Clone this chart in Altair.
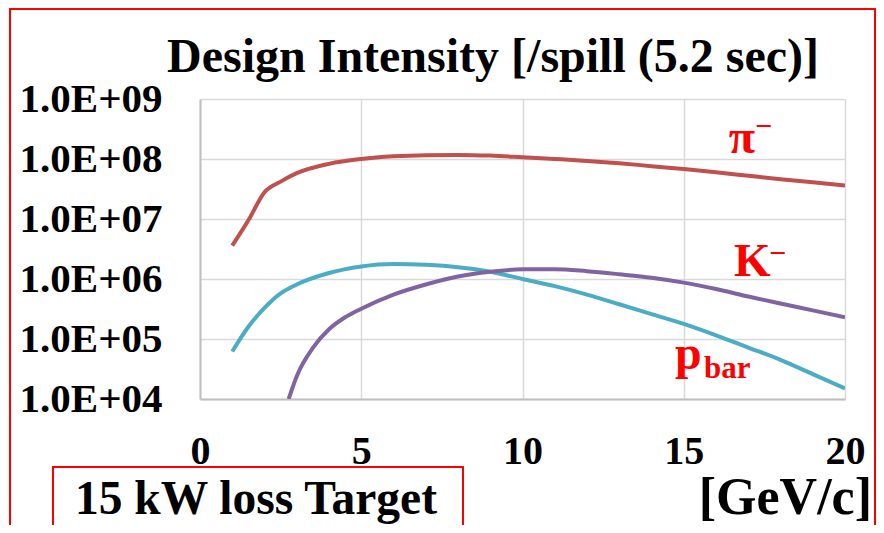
import altair as alt
import pandas as pd

# ---- data ----
series_names = ["pi-", "K-", "pbar"]
series_colors = ["#C0504D", "#4BACC6", "#8064A2"]

pi_energy = [1.0, 1.5, 2.0, 2.5, 3.0, 4.0, 5.0, 6.0, 7.0, 8.0, 9.0, 10, 11, 12, 13, 14, 15, 16, 17, 18, 19, 20]
pi_intensity = [3.6e6, 9.5e6, 2.8e7, 4.2e7, 5.8e7, 8.3e7, 1.0e8, 1.11e8, 1.16e8, 1.17e8, 1.14e8, 1.07e8,
                1.0e8, 9.3e7, 8.5e7, 7.6e7, 6.8e7, 6.0e7, 5.25e7, 4.6e7, 4.1e7, 3.6e7]

k_energy = [1.0, 1.5, 2.0, 2.5, 3.0, 4.0, 5.0, 6.0, 7.0, 8.0, 9.0, 10, 11, 12, 13, 14, 15, 16, 17, 18, 19, 20]
k_intensity = [6.2e4, 1.6e5, 3.3e5, 5.75e5, 8.1e5, 1.26e6, 1.62e6, 1.78e6, 1.72e6, 1.57e6, 1.32e6, 1.0e6,
               7.6e5, 5.5e5, 3.8e5, 2.6e5, 1.78e5, 1.15e5, 7.2e4, 4.5e4, 2.6e4, 1.5e4]

pbar_energy = [2.75, 3.0, 3.5, 4.0, 4.5, 5.0, 6.0, 7.0, 8.0, 9.0, 10, 11, 12, 13, 14, 15, 16, 17, 18, 19, 20]
pbar_intensity = [1.0e4, 2.4e4, 7.1e4, 1.45e5, 2.3e5, 3.2e5, 5.5e5, 8.1e5, 1.1e6, 1.32e6, 1.45e6, 1.46e6,
                  1.35e6, 1.2e6, 1.05e6, 8.7e5, 6.8e5, 5.1e5, 3.9e5, 3.0e5, 2.3e5]

x_ticks = [0, 5, 10, 15, 20]
y_ticks = [1e4, 1e5, 1e6, 1e7, 1e8, 1e9]

title_text = "Design Intensity [/spill (5.2 sec)]"
x_title_text = "[GeV/c]"
box_text = "15 kW loss Target"

rows = []
for name, xs_, ys_ in [("pi-", pi_energy, pi_intensity),
                       ("K-", k_energy, k_intensity),
                       ("pbar", pbar_energy, pbar_intensity)]:
    for e, v in zip(xs_, ys_):
        rows.append({"series": name, "energy": e, "intensity": v})
df = pd.DataFrame(rows)

FONT = "Liberation Serif"
RED = "#FF0000"
GRID = "#D9D9D9"

x_scale = alt.Scale(domain=[0, 20], nice=False, zero=False)
y_scale = alt.Scale(type="log", domain=[1e4, 1e9], nice=False)

lines = alt.Chart(df).mark_line(strokeWidth=4, interpolate="monotone", clip=True).encode(
    x=alt.X("energy:Q", scale=x_scale,
            axis=alt.Axis(values=x_ticks, title=None, grid=True, gridColor=GRID, gridWidth=1.5,
                          domainColor="#BFBFBF", domainWidth=2, ticks=False,
                          labelFont=FONT, labelFontWeight="bold", labelFontSize=40,
                          labelColor="black", labelPadding=32, labelFlush=False,
                          labelOverlap=False)),
    y=alt.Y("intensity:Q", scale=y_scale,
            axis=alt.Axis(values=y_ticks, title=None, grid=True, gridColor=GRID, gridWidth=1.5,
                          domainColor="#BFBFBF", domainWidth=2, ticks=False,
                          labelFont=FONT, labelFontWeight="bold", labelFontSize=41,
                          labelColor="black", labelPadding=38, labelFlush=False,
                          labelOverlap=False,
                          labelExpr="'1.0E+0' + round(log(datum.value)/LN10)")),
    color=alt.Color("series:N", scale=alt.Scale(domain=series_names, range=series_colors), legend=None),
)


def txt(t, x, y, size, color="black", align="center"):
    return alt.Chart(pd.DataFrame({"t": [t]})).mark_text(
        font=FONT, fontWeight="bold", fontSize=size, color=color, align=align,
        baseline="alphabetic"
    ).encode(x=alt.value(x), y=alt.value(y), text="t:N")


def box(x, x2, y, y2):
    return alt.Chart(pd.DataFrame({"a": [0]})).mark_rect(
        fillOpacity=0, stroke=RED, strokeWidth=2
    ).encode(x=alt.value(x), x2=alt.value(x2), y=alt.value(y), y2=alt.value(y2))


layers = [
    box(-190, 675, -90, 460),
    lines,
    txt(title_text, 293, -27, 48),
    txt("π", 542, 54, 48, RED),
    txt("−", 555, 37, 30, RED, "left"),
    txt("K", 534, 177, 47, RED, "left"),
    txt("−", 569, 164, 30, RED, "left"),
    txt("p", 475, 270, 48, RED, "left"),
    txt("bar", 504, 279, 31, RED, "left"),
    txt(x_title_text, 672, 415, 52, "black", "right"),
    box(-147, 263, 368, 460),
    txt(box_text, 56, 415, 47.5),
]

chart = alt.layer(*layers).properties(
    width=645, height=300,
    autosize=alt.AutoSizeParams(type="none"),
    padding={"left": 192, "top": 91, "right": 31, "bottom": 126},
    background="white",
).configure_view(strokeWidth=0)

chart.save("out.html", embed_options={"renderer": "svg", "actions": False})
